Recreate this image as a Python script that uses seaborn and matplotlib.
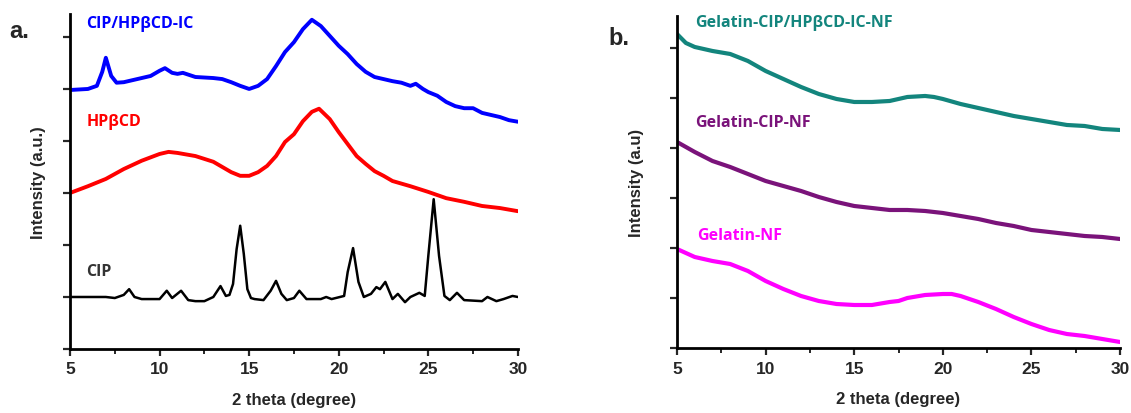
import numpy as np
import matplotlib
matplotlib.use('Agg')
import matplotlib.pyplot as plt
from matplotlib.ticker import MultipleLocator, NullFormatter
import seaborn as sns

# panel a: CIP/HPbCD-IC (blue)
ic_theta = [5, 6, 6.5, 6.8, 7.0, 7.3, 7.6, 8, 9, 9.5, 10, 10.3, 10.7, 11, 11.3, 12, 13, 13.5,
            14, 14.5, 15, 15.5, 16, 16.5, 17, 17.5, 18, 18.5, 19, 19.5, 20, 20.5, 21, 21.5,
            22, 22.5, 23, 23.5, 24, 24.3, 24.7, 25, 25.5, 26, 26.5, 27, 27.5, 28, 28.5, 29, 29.5, 30]
ic_int = [4.98, 5.00, 5.06, 5.33, 5.60, 5.25, 5.12, 5.13, 5.21, 5.25, 5.35, 5.40, 5.31, 5.29,
          5.31, 5.23, 5.21, 5.19, 5.13, 5.06, 5.00, 5.06, 5.19, 5.44, 5.71, 5.90, 6.15, 6.33,
          6.21, 6.02, 5.83, 5.67, 5.48, 5.33, 5.23, 5.19, 5.15, 5.12, 5.06, 5.10, 5.00, 4.94,
          4.87, 4.75, 4.67, 4.63, 4.63, 4.54, 4.50, 4.46, 4.40, 4.37]

# panel a: HPbCD (red)
hp_theta = [5, 6, 7, 8, 9, 10, 10.5, 11, 12, 13, 14, 14.5, 15, 15.5, 16, 16.5, 17, 17.5, 18,
            18.5, 18.9, 19.5, 20, 20.5, 21, 21.5, 22, 22.5, 23, 24, 25, 26, 27, 28, 29, 30]
hp_int = [3.00, 3.13, 3.27, 3.46, 3.62, 3.75, 3.79, 3.77, 3.71, 3.60, 3.40, 3.33, 3.33, 3.40,
          3.52, 3.71, 3.98, 4.13, 4.38, 4.56, 4.62, 4.42, 4.17, 3.94, 3.71, 3.56, 3.42, 3.33,
          3.23, 3.13, 3.02, 2.90, 2.83, 2.75, 2.71, 2.65]

# panel a: CIP (black)
cip_theta = [5, 7, 7.5, 8.0, 8.3, 8.6, 9, 10, 10.4, 10.7, 11.2, 11.6, 12, 12.5, 13, 13.4, 13.7,
             13.9, 14.1, 14.3, 14.5, 14.7, 14.9, 15.1, 15.3, 15.8, 16.2, 16.5, 16.8, 17.1, 17.5,
             17.8, 18.2, 19, 19.3, 19.6, 20.3, 20.5, 20.8, 21.1, 21.4, 21.8, 22.1, 22.3, 22.6,
             23.0, 23.3, 23.7, 24.0, 24.5, 24.8, 25.0, 25.3, 25.6, 25.9, 26.2, 26.6, 27.0, 28.0,
             28.3, 28.8, 29.2, 29.7, 30]
cip_int = [1.00, 1.00, 0.98, 1.04, 1.15, 1.00, 0.96, 0.96, 1.12, 0.98, 1.12, 0.94, 0.92, 0.92,
           1.00, 1.21, 1.02, 1.04, 1.25, 1.92, 2.37, 1.83, 1.15, 0.98, 0.96, 0.94, 1.12, 1.31,
           1.06, 0.94, 0.98, 1.12, 0.96, 0.96, 1.00, 0.96, 1.02, 1.48, 1.94, 1.29, 1.00, 1.06,
           1.19, 1.15, 1.29, 0.96, 1.06, 0.90, 1.00, 1.08, 1.02, 1.79, 2.88, 1.79, 1.02, 0.94,
           1.08, 0.94, 0.92, 1.00, 0.92, 0.96, 1.02, 1.00]

# panel b
nf_theta = [5, 5.5, 6, 7, 8, 9, 10, 11, 12, 13, 14, 15, 16, 17, 17.5, 18, 19, 19.5, 20, 21, 22,
            23, 24, 25, 26, 27, 28, 29, 30]
gel_ic_int = [6.28, 6.10, 6.02, 5.94, 5.88, 5.74, 5.54, 5.38, 5.22, 5.08, 4.98, 4.92, 4.92, 4.94,
              4.98, 5.02, 5.04, 5.02, 4.98, 4.88, 4.80, 4.72, 4.64, 4.58, 4.52, 4.46, 4.44,
              4.38, 4.36]
gel_cip_int = [4.12, 4.02, 3.92, 3.74, 3.62, 3.48, 3.34, 3.24, 3.14, 3.02, 2.92, 2.84, 2.80, 2.76,
               2.76, 2.76, 2.74, 2.72, 2.70, 2.64, 2.58, 2.50, 2.44, 2.36, 2.32, 2.28, 2.24,
               2.22, 2.18]
gel_nf_theta = [5, 6, 7, 8, 9, 10, 11, 12, 13, 14, 15, 16, 17, 17.5, 18, 19, 20, 20.5, 21, 22,
                23, 24, 25, 26, 27, 28, 29, 30]
gel_nf_int = [1.98, 1.82, 1.74, 1.68, 1.54, 1.34, 1.18, 1.04, 0.94, 0.88, 0.86, 0.86, 0.92, 0.94,
              1.00, 1.06, 1.08, 1.08, 1.04, 0.92, 0.78, 0.62, 0.48, 0.36, 0.28, 0.24, 0.18, 0.12]

sns.set_style('ticks')
plt.rcParams['font.family'] = ['Liberation Sans', 'DejaVu Sans']

fig = plt.figure(figsize=(11.31, 4.14), dpi=100)
ax1 = fig.add_axes([0.0619, 0.1546, 0.396, 0.809])
ax2 = fig.add_axes([0.5986, 0.157, 0.3917, 0.802])

sns.lineplot(x=ic_theta, y=ic_int, color='#0000ff', lw=2.8, ax=ax1)
sns.lineplot(x=hp_theta, y=hp_int, color='#ff0000', lw=2.8, ax=ax1)
sns.lineplot(x=cip_theta, y=cip_int, color='black', lw=1.8, ax=ax1)

sns.lineplot(x=nf_theta, y=gel_ic_int, color='#13857d', lw=3.0, ax=ax2)
sns.lineplot(x=nf_theta, y=gel_cip_int, color='#7a137a', lw=3.0, ax=ax2)
sns.lineplot(x=gel_nf_theta, y=gel_nf_int, color='#ff00ff', lw=3.0, ax=ax2)

lab_font = ['Open Sans', 'DejaVu Sans']
ax1.text(0.036, 0.973, 'CIP/HPβCD-IC', color='#0000ff', transform=ax1.transAxes,
         fontsize=11.5, fontweight='bold', family=lab_font, va='center')
ax1.text(0.036, 0.68, 'HPβCD', color='#ff0000', transform=ax1.transAxes,
         fontsize=11.5, fontweight='bold', family=lab_font, va='center')
ax1.text(0.036, 0.232, 'CIP', color='#333333', transform=ax1.transAxes,
         fontsize=11.5, fontweight='bold', family=lab_font, va='center')
ax2.text(0.04, 0.982, 'Gelatin-CIP/HPβCD-IC-NF', color='#13857d', transform=ax2.transAxes,
         fontsize=11.5, fontweight='bold', family=lab_font, va='center')
ax2.text(0.04, 0.68, 'Gelatin-CIP-NF', color='#7a137a', transform=ax2.transAxes,
         fontsize=11.5, fontweight='bold', family=lab_font, va='center')
ax2.text(0.045, 0.34, 'Gelatin-NF', color='#ff00ff', transform=ax2.transAxes,
         fontsize=11.5, fontweight='bold', family=lab_font, va='center')

fig.text(0.008, 0.925, 'a.', fontsize=17, fontweight='bold', va='center')
fig.text(0.538, 0.908, 'b.', fontsize=17, fontweight='bold', va='center')

for ax, top, ylab, pad in [(ax1, 6.44, 'Intensity (a.u.)', 8), (ax2, 6.64, 'Intensity (a.u)', 15)]:
    ax.set_xlim(5, 30)
    ax.set_ylim(0, top)
    ax.xaxis.set_major_locator(MultipleLocator(5))
    ax.xaxis.set_minor_locator(MultipleLocator(2.5))
    ax.yaxis.set_major_locator(MultipleLocator(1))
    ax.yaxis.set_major_formatter(NullFormatter())
    for s in ['top', 'right']:
        ax.spines[s].set_visible(False)
    for s in ['left', 'bottom']:
        ax.spines[s].set_linewidth(2)
        ax.spines[s].set_color('black')
    ax.tick_params(axis='both', which='major', direction='out', length=5, width=1.6,
                   labelsize=12.5, pad=4)
    ax.tick_params(axis='x', which='minor', direction='out', length=3.5, width=1.4)
    for t in ax.get_xticklabels():
        t.set_fontweight('bold')
    ax.set_xlabel('2 theta (degree)', fontsize=12, fontweight='bold', labelpad=11)
    ax.set_ylabel(ylab, fontsize=12, fontweight='bold', labelpad=pad)

fig.savefig('out.png', dpi=100)
